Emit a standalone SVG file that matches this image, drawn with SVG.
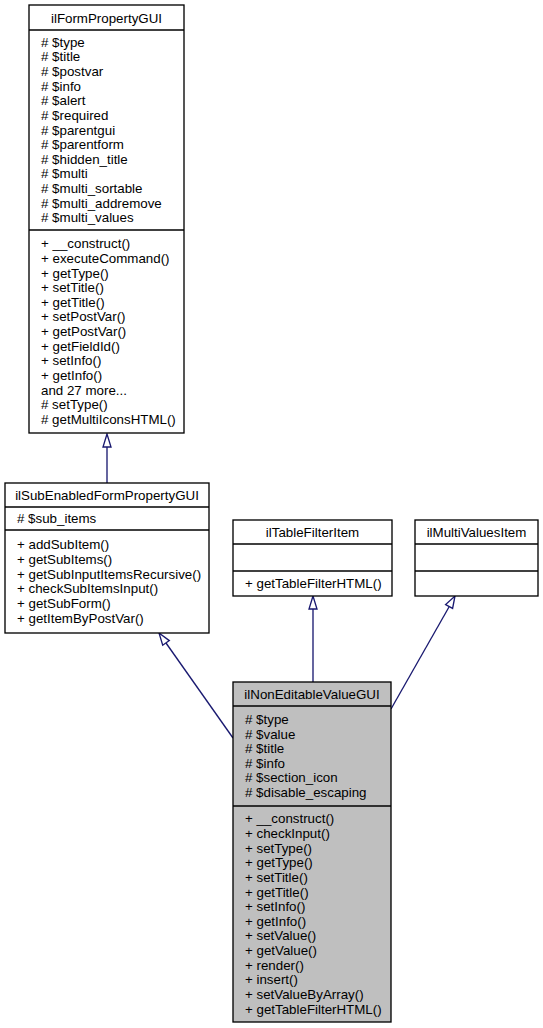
<svg xmlns="http://www.w3.org/2000/svg" width="543" height="1028" viewBox="0 0 543 1028">
<style>
.box{fill:#ffffff;stroke:#000000;stroke-width:1.33}
.cur{fill:#bfbfbf;stroke:#000000;stroke-width:1.33}
.sep{stroke:#000000;stroke-width:1.33}
text{font-family:"Liberation Sans",Arial,Helvetica,sans-serif;font-size:13.33px;fill:#000000}
.c{text-anchor:middle}
.edge{fill:none;stroke:#191970;stroke-width:1.33}
.head{fill:#ffffff;stroke:#191970;stroke-width:1.33}
</style>
<rect width="543" height="1028" fill="#ffffff"/>
<g id="connectors">
  <path class="edge" d="M107,483 L107,447"/>
  <polygon class="head" points="107,434 103,447 111,447"/>
  <path class="edge" d="M233,738 L166,643"/>
  <polygon class="head" points="159,633 169.3,640.6 162.7,645.2"/>
  <path class="edge" d="M313,682 L313,609"/>
  <polygon class="head" points="313,596 309,609 317,609"/>
  <path class="edge" d="M391,709 L449,607"/>
  <polygon class="head" points="455,596 452.6,608.4 445.6,604.5"/>
</g>
<g id="ilFormPropertyGUI">
  <rect class="box" x="29" y="5" width="155" height="428"/>
  <line class="sep" x1="29" y1="30" x2="184" y2="30"/>
  <line class="sep" x1="29" y1="230" x2="184" y2="230"/>
  <text class="c" x="106.5" y="23">ilFormPropertyGUI</text>
  <text x="41" y="46.7"># $type</text>
  <text x="41" y="61.3"># $title</text>
  <text x="41" y="76"># $postvar</text>
  <text x="41" y="90.6"># $info</text>
  <text x="41" y="105.2"># $alert</text>
  <text x="41" y="119.9"># $required</text>
  <text x="41" y="134.5"># $parentgui</text>
  <text x="41" y="149.1"># $parentform</text>
  <text x="41" y="163.7"># $hidden_title</text>
  <text x="41" y="178.4"># $multi</text>
  <text x="41" y="193"># $multi_sortable</text>
  <text x="41" y="207.6"># $multi_addremove</text>
  <text x="41" y="222.3"># $multi_values</text>
  <text x="41" y="248.2">+ __construct()</text>
  <text x="41" y="262.9">+ executeCommand()</text>
  <text x="41" y="277.5">+ getType()</text>
  <text x="41" y="292.1">+ setTitle()</text>
  <text x="41" y="306.7">+ getTitle()</text>
  <text x="41" y="321.4">+ setPostVar()</text>
  <text x="41" y="336">+ getPostVar()</text>
  <text x="41" y="350.6">+ getFieldId()</text>
  <text x="41" y="365.3">+ setInfo()</text>
  <text x="41" y="379.9">+ getInfo()</text>
  <text x="41" y="394.5">and 27 more...</text>
  <text x="41" y="409.1"># setType()</text>
  <text x="41" y="423.8"># getMultiIconsHTML()</text>
</g>
<g id="ilSubEnabledFormPropertyGUI">
  <rect class="box" x="5" y="483" width="204" height="150"/>
  <line class="sep" x1="5" y1="507" x2="209" y2="507"/>
  <line class="sep" x1="5" y1="530" x2="209" y2="530"/>
  <text class="c" x="107" y="499.5">ilSubEnabledFormPropertyGUI</text>
  <text x="17" y="523"># $sub_items</text>
  <text x="17" y="549.4">+ addSubItem()</text>
  <text x="17" y="564">+ getSubItems()</text>
  <text x="17" y="578.7">+ getSubInputItemsRecursive()</text>
  <text x="17" y="593.3">+ checkSubItemsInput()</text>
  <text x="17" y="607.9">+ getSubForm()</text>
  <text x="17" y="622.6">+ getItemByPostVar()</text>
</g>
<g id="ilTableFilterItem">
  <rect class="box" x="233" y="520" width="159" height="76"/>
  <line class="sep" x1="233" y1="544" x2="392" y2="544"/>
  <line class="sep" x1="233" y1="571" x2="392" y2="571"/>
  <text class="c" x="312.5" y="536.5">ilTableFilterItem</text>
  <text x="245" y="588">+ getTableFilterHTML()</text>
</g>
<g id="ilMultiValuesItem">
  <rect class="box" x="415" y="520" width="123" height="76"/>
  <line class="sep" x1="415" y1="544" x2="538" y2="544"/>
  <line class="sep" x1="415" y1="571" x2="538" y2="571"/>
  <text class="c" x="476.5" y="536.5">ilMultiValuesItem</text>
</g>
<g id="ilNonEditableValueGUI">
  <rect class="cur" x="233" y="682" width="158" height="340"/>
  <line class="sep" x1="233" y1="706" x2="391" y2="706"/>
  <line class="sep" x1="233" y1="806" x2="391" y2="806"/>
  <text class="c" x="312" y="698.5">ilNonEditableValueGUI</text>
  <text x="245" y="723.9"># $type</text>
  <text x="245" y="738.5"># $value</text>
  <text x="245" y="753.2"># $title</text>
  <text x="245" y="767.8"># $info</text>
  <text x="245" y="782.4"># $section_icon</text>
  <text x="245" y="797.1"># $disable_escaping</text>
  <text x="245" y="823.4">+ __construct()</text>
  <text x="245" y="838">+ checkInput()</text>
  <text x="245" y="852.7">+ setType()</text>
  <text x="245" y="867.3">+ getType()</text>
  <text x="245" y="881.9">+ setTitle()</text>
  <text x="245" y="896.6">+ getTitle()</text>
  <text x="245" y="911.2">+ setInfo()</text>
  <text x="245" y="925.8">+ getInfo()</text>
  <text x="245" y="940.4">+ setValue()</text>
  <text x="245" y="955.1">+ getValue()</text>
  <text x="245" y="969.7">+ render()</text>
  <text x="245" y="984.3">+ insert()</text>
  <text x="245" y="999">+ setValueByArray()</text>
  <text x="245" y="1013.6">+ getTableFilterHTML()</text>
</g>
</svg>
